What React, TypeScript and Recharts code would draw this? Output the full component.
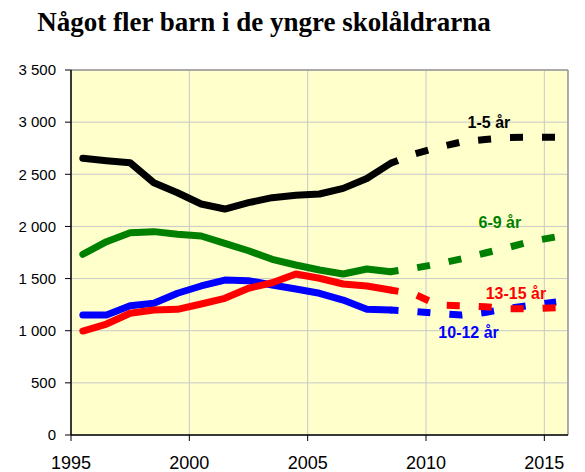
import React from 'react';
import { LineChart, Line, XAxis, YAxis, CartesianGrid, ReferenceLine, ReferenceDot } from 'recharts';

// years on the category axis; a point sits in the middle of its year
const years = [1995, 1996, 1997, 1998, 1999, 2000, 2001, 2002, 2003, 2004, 2005, 2006, 2007, 2008, 2009, 2010, 2011, 2012, 2013, 2014, 2015];

// outcome 1995-2008
const age1to5 = [2653, 2630, 2611, 2419, 2323, 2215, 2167, 2228, 2276, 2298, 2311, 2365, 2460, 2605];
const age6to9 = [1733, 1854, 1940, 1950, 1925, 1908, 1838, 1767, 1685, 1630, 1582, 1544, 1592, 1566];
const age10to12 = [1151, 1151, 1240, 1263, 1359, 1429, 1486, 1480, 1438, 1400, 1359, 1294, 1205, 1199];
const age13to15 = [997, 1064, 1167, 1199, 1205, 1256, 1311, 1407, 1460, 1544, 1503, 1448, 1429, 1390];

// forecast 2008-2015
const fc1to5 = [2605, 2694, 2757, 2810, 2834, 2853, 2855, 2855];
const fc6to9 = [1566, 1600, 1640, 1690, 1745, 1800, 1860, 1900];
const fc10to12 = [1199, 1185, 1165, 1150, 1175, 1215, 1245, 1275];
const fc13to15 = [1390, 1352, 1247, 1240, 1230, 1210, 1210, 1220];

const yTicks = [0, 500, 1000, 1500, 2000, 2500, 3000, 3500];
const xTicks = [1995, 2000, 2005, 2010, 2015];

// series labels: [text, year position, value, colour]
const seriesLabels: [string, number, number, string][] = [
  ['1-5 år', 2012.66, 3000, '#000000'],
  ['6-9 år', 2013.12, 2040, '#008000'],
  ['13-15 år', 2013.8, 1360, '#FF0000'],
  ['10-12 år', 2011.8, 985, '#0000FF'],
];

const FC_START = 13;

const data = years.map((year, i) => ({
  x: year + 0.5,
  a1: i < age1to5.length ? age1to5[i] : null,
  a2: i < age6to9.length ? age6to9[i] : null,
  a3: i < age10to12.length ? age10to12[i] : null,
  a4: i < age13to15.length ? age13to15[i] : null,
  f1: i >= FC_START ? fc1to5[i - FC_START] : null,
  f2: i >= FC_START ? fc6to9[i - FC_START] : null,
  f3: i >= FC_START ? fc10to12[i - FC_START] : null,
  f4: i >= FC_START ? fc13to15[i - FC_START] : null,
}));

const font = '"Liberation Sans", Arial, sans-serif';
const fmt = (v: number) => (v >= 1000 ? `${Math.floor(v / 1000)} ${String(v % 1000).padStart(3, '0')}` : String(v));

const solid = { strokeWidth: 7, strokeLinecap: 'round' as const, strokeLinejoin: 'round' as const };
const dashed = { strokeWidth: 7, strokeDasharray: '13 19', strokeDashoffset: 5, strokeLinecap: 'butt' as const };

const App: React.FC = () => {
  return (
    <div style={{ position: 'relative', width: 585, height: 472 }}>
      <style>{'body{margin:0}'}</style>
      <div
        style={{
          position: 'absolute',
          top: 9,
          left: 0,
          width: 528,
          textAlign: 'center',
          fontFamily: '"Liberation Serif", "Times New Roman", serif',
          fontWeight: 'bold',
          fontSize: 27,
          lineHeight: '27px',
        }}
      >
        Något fler barn i de yngre skolåldrarna
      </div>
      <LineChart width={585} height={472} data={data} margin={{ top: 70, right: 17, bottom: 0, left: 0 }}>
        <CartesianGrid fill="#FFFFCC" stroke="#C8C8C8" strokeWidth={1} />
        <XAxis
          dataKey="x"
          type="number"
          domain={[1995, 2016]}
          ticks={xTicks}
          height={37}
          tickSize={6}
          tickMargin={15}
          axisLine={{ stroke: '#000', strokeWidth: 1.5 }}
          tickLine={{ stroke: '#000' }}
          tick={{ fontSize: 18, fill: '#000', fontFamily: font }}
          allowDataOverflow
        />
        <YAxis
          type="number"
          domain={[0, 3500]}
          ticks={yTicks}
          width={71}
          tickSize={6}
          tickMargin={9}
          axisLine={{ stroke: '#000', strokeWidth: 1.5 }}
          tickLine={{ stroke: '#000' }}
          tick={{ fontSize: 15, fill: '#000', fontFamily: font }}
          tickFormatter={fmt}
        />
        <ReferenceLine y={3500} stroke="#999" strokeWidth={1.5} />
        <ReferenceLine x={2016} stroke="#999" strokeWidth={1.5} />
        <Line dataKey="a1" stroke="#000000" {...solid} dot={false} activeDot={false} isAnimationActive={false} />
        <Line dataKey="a2" stroke="#008000" {...solid} dot={false} activeDot={false} isAnimationActive={false} />
        <Line dataKey="a3" stroke="#0000FF" {...solid} dot={false} activeDot={false} isAnimationActive={false} />
        <Line dataKey="a4" stroke="#FF0000" {...solid} dot={false} activeDot={false} isAnimationActive={false} />
        <Line dataKey="f1" stroke="#000000" {...dashed} dot={false} activeDot={false} isAnimationActive={false} />
        <Line dataKey="f2" stroke="#008000" {...dashed} dot={false} activeDot={false} isAnimationActive={false} />
        <Line dataKey="f3" stroke="#0000FF" {...dashed} dot={false} activeDot={false} isAnimationActive={false} />
        <Line dataKey="f4" stroke="#FF0000" {...dashed} dot={false} activeDot={false} isAnimationActive={false} />
        {seriesLabels.map(([text, x, y, color]) => (
          <ReferenceDot
            key={text}
            x={x}
            y={y}
            r={0}
            fill="none"
            stroke="none"
            label={{ value: text, position: 'center', fill: color, fontSize: 16, fontWeight: 'bold', fontFamily: font }}
          />
        ))}
      </LineChart>
    </div>
  );
};

export default App;
